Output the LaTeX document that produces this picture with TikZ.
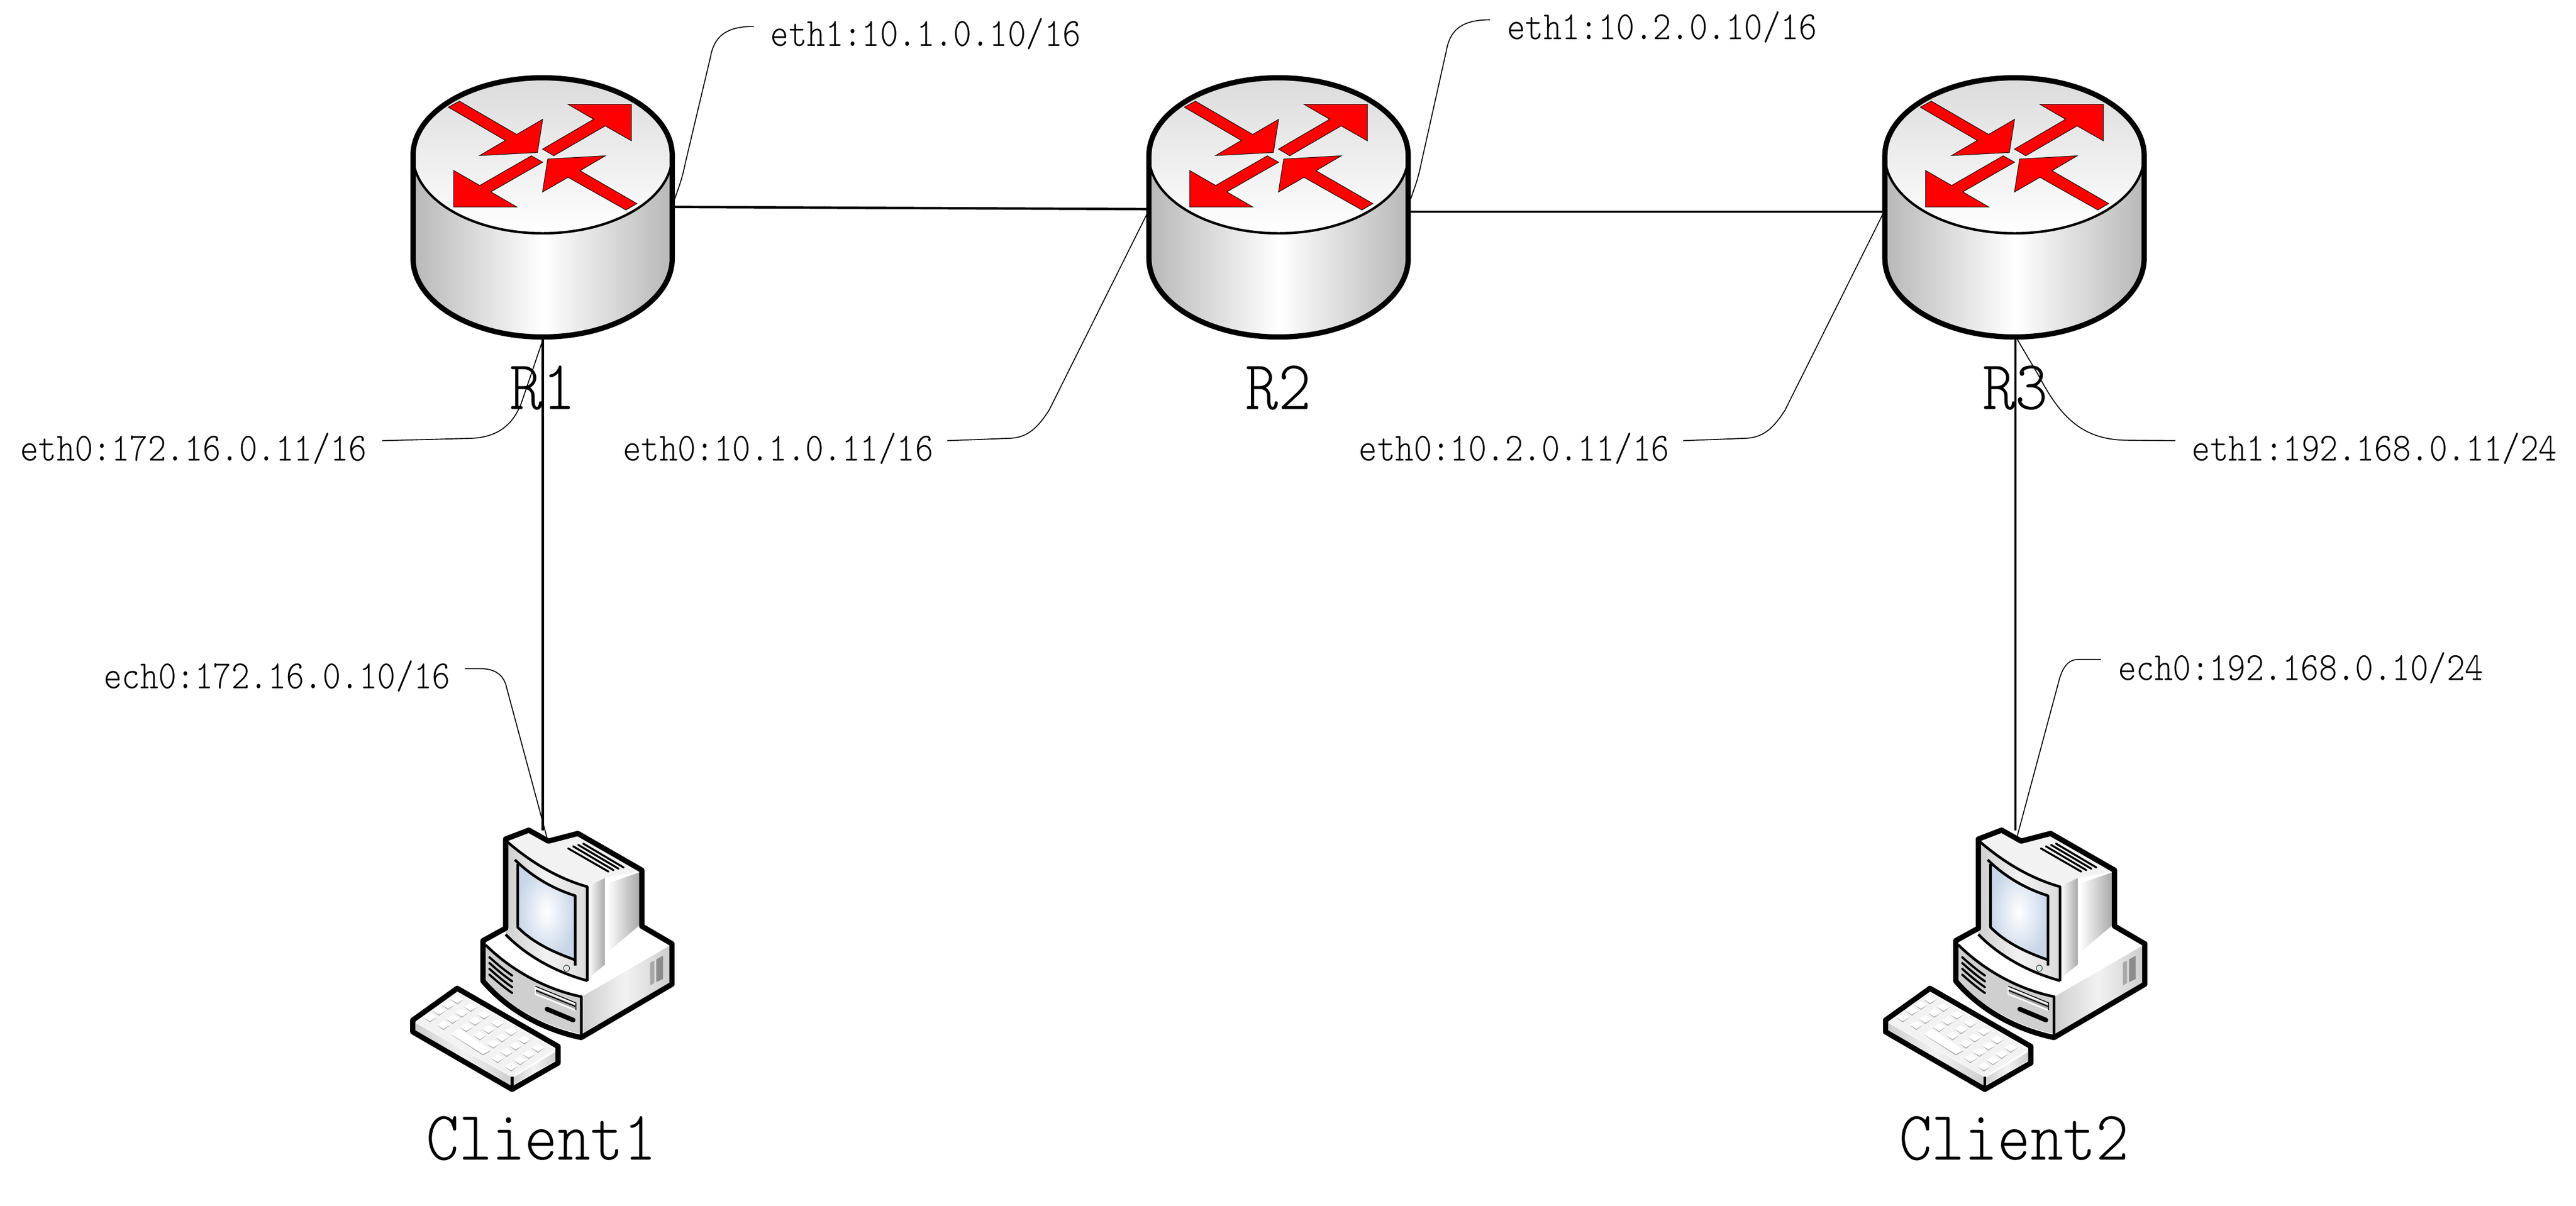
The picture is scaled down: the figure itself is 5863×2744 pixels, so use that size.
\documentclass[tikz,border=0pt]{standalone}
\usepackage{fontspec}
\usepackage{graphicx}
\definecolor{gA}{gray}{0.86}
\definecolor{gB}{gray}{0.72}
\definecolor{gC}{gray}{0.95}
\definecolor{gD}{gray}{0.66}
\definecolor{gE}{gray}{0.81}
\definecolor{keyshadow}{gray}{0.68}
\definecolor{screenblue}{RGB}{200,214,232}
\definecolor{ledgreen}{RGB}{220,235,225}
\newcommand{\smalltxt}[1]{\scalebox{1}[1.15]{\ttfamily\fontsize{22.5}{24}\fontseries{l}\selectfont #1}}
\newcommand{\bigtxt}[1]{\scalebox{1}[1.12]{\ttfamily\fontsize{40.5}{42}\fontseries{l}\selectfont #1}}
\tikzset{
  iplabel/.style={anchor=base west,inner sep=0pt,outer sep=0pt},
  namelabel/.style={anchor=base,inner sep=0pt,outer sep=0pt},
  iconbox/.style={inner sep=0pt,minimum width=6cm,minimum height=6cm},
  link/.style={line width=0.55mm,black},
  leader/.style={line width=0.22mm,black},
  heavy/.style={line width=1.2mm,black,line join=round},
  mid/.style={line width=0.6mm,black,line join=round},
  sidegrad/.style={left color=#1,right color=#1,middle color=white},
  softgrad/.style={left color=gE,right color=gE,middle color=gC},
}
\newcommand{\routericon}[1]{%
  \begin{scope}[shift={(#1,0)}]
    \path[sidegrad=gB]
      (-295,354) -- (-295,588) arc (180:0:295 and 179) -- (295,354) arc (0:180:295 and 177) -- cycle;
    \shade[top color=gA,bottom color=white] (0,354) ellipse (295 and 177);
    \draw[line width=0.55mm] (-295,354) arc (180:0:295 and 177);
    \draw[heavy] (-295,354) -- (-295,588) arc (180:0:295 and 179) -- (295,354) arc (0:-180:295 and 177) -- cycle;
  \end{scope}
  \begin{scope}[shift={({#1-355},120)},xscale=.4975,yscale=.459]
    \filldraw[fill=red,draw=black,line width=0.12mm]
      (282,270) -- (333,240) -- (595,405) -- (714,330) -- (690,495) -- (425,510) -- (543,435) -- cycle
      (713,478) -- (947,330) -- (830,256) -- (1120,256) -- (1120,437) -- (1000,363) -- (765,511) -- cycle
      (714,543) -- (477,690) -- (596,765) -- (307,765) -- (307,584) -- (426,658) -- (662,511) -- cycle
      (1145,748) -- (1095,780) -- (830,618) -- (713,691) -- (737,527) -- (1001,511) -- (885,585) -- cycle;
  \end{scope}}
\newcommand{\pcicon}[1]{%
  \begin{scope}[shift={({880+#1},1780)},xscale=.459,yscale=.472]
    % silhouette
    \fill[white] (590,275) -- (705,232) -- (802,285) -- (948,248) -- (1265,425) -- (1265,695) -- (1415,780) -- (1415,975) -- (965,1232) .. controls (780,1195) and (600,1100) .. (478,960) -- (478,765) -- (590,705) -- cycle;
    % top of monitor
    \fill[gC] (605,285) -- (705,245) -- (802,300) -- (948,262) -- (1253,432) -- (1083,462) -- (995,500) .. controls (850,465) and (720,390) .. cycle;
    % base right side
    \path[softgrad] (968,1035) -- (1402,790) -- (1402,970) -- (968,1215) -- cycle;
    % base front
    \fill[gE] (490,785) .. controls (620,910) and (790,1000) .. (965,1035) -- (965,1215) .. controls (790,1180) and (620,1090) .. (490,965) -- cycle;
    % monitor narrow side and back
    \path[left color=white,right color=gD] (1000,500) -- (1083,463) -- (1083,880) -- (1000,945) -- cycle;
    \path[left color=white,right color=gD] (1093,490) -- (1255,435) -- (1255,690) -- (1093,822) -- cycle;
    % monitor front
    \path[left color=gE,right color=gA,middle color=gC] (600,290) .. controls (720,390) and (850,465) .. (995,505) -- (995,955) .. controls (850,915) and (700,840) .. (590,730) -- cycle;
    % screen
    \path[inner color=white,outer color=screenblue] (650,395) .. controls (740,470) and (840,520) .. (935,548) -- (935,858) .. controls (840,825) and (730,780) .. (650,700) -- cycle;
    \draw[mid] (636,375) .. controls (730,465) and (840,520) .. (935,548) -- (935,885);
    \draw[mid] (650,395) -- (650,700) .. controls (730,780) and (840,825) .. (935,858);
    % monitor front outline
    \draw[mid] (600,290) .. controls (720,390) and (850,465) .. (995,505) -- (995,960);
    \draw[mid] (590,735) .. controls (700,845) and (850,920) .. (995,958);
    % led
    \filldraw[fill=ledgreen,draw=black,line width=0.1mm] (892,898) circle (15);
    % top vents
    \foreach \a/\b/\c/\d in {900/320/1100/432,925/310/1125/425,950/303/1150/418,975/297/1175/412}
      \draw[line width=0.45mm,line cap=round] (\a,\b) -- (\c,\d);
    % side slots
    \fill[gD] (1307,870) -- (1327,862) -- (1327,970) -- (1307,980) -- cycle;
    \fill[gray!90] (1337,855) -- (1370,838) -- (1370,950) -- (1337,965) -- cycle;
    % base front lines
    \draw[mid] (490,785) .. controls (620,910) and (790,1000) .. (965,1035) -- (965,1220);
    \foreach \y in {0,28,56,84}
      \draw[line width=0.5mm,line cap=round] (510,845+\y) .. controls (550,880+\y) and (585,908+\y) .. (622,933+\y);
    % drive
    \filldraw[fill=white,draw=none] (735,985) -- (938,1065) -- (938,1105) -- (735,1025) -- cycle;
    \fill[gray!70] (740,998) -- (935,1075) -- (935,1095) -- (740,1018) -- cycle;
    \draw[line width=0.2mm] (738,985) -- (938,1065) -- (938,1100);
    \draw[line width=0.25mm] (740,1005) -- (935,1082);
    \draw[line width=1.05mm,line cap=round] (795,1095) -- (925,1148);
    % outline
    \draw[heavy] (590,275) -- (705,232) -- (802,285) -- (948,248) -- (1265,425) -- (1265,695) -- (1415,780) -- (1415,975) -- (965,1232) .. controls (780,1195) and (600,1100) .. (478,960) -- (478,765) -- (590,705) -- cycle;
    % keyboard
    \fill[white] (350,995) -- (850,1275) -- (850,1355) -- (622,1482) -- (130,1205) -- (130,1148) -- cycle;
    \fill[gC] (350,1015) -- (835,1290) -- (620,1420) -- (145,1160) -- cycle;
    \path[softgrad] (145,1163) -- (618,1422) -- (618,1470) -- (145,1205) -- cycle;
    \path[softgrad] (628,1425) -- (835,1302) -- (835,1345) -- (628,1460) -- cycle;
    \foreach \x/\y in {350/1048,305/1075,260/1103,215/1135,417/1085,372/1113,327/1143,282/1172,483/1122,438/1152,395/1182,550/1162,505/1192,462/1222,617/1202,572/1232,528/1262,683/1242,640/1272,595/1302,550/1332,750/1282,705/1312,662/1342,617/1372}{
      \fill[keyshadow] (\x-33,\y) -- (\x,\y+24) -- (\x+33,\y) -- cycle;
      \fill[white] (\x-33,\y-1) -- (\x,\y-19) -- (\x+33,\y-1) -- (\x,\y+18) -- cycle;
    }
    \fill[keyshadow] (318,1217) -- (478,1318) -- (517,1297) -- cycle;
    \fill[white] (318,1215) -- (360,1190) -- (517,1293) -- (478,1312) -- cycle;
    \draw[line width=0.6mm] (622,1422) -- (622,1470);
    \draw[heavy] (350,995) -- (850,1275) -- (850,1355) -- (622,1482) -- (130,1205) -- (130,1148) -- cycle;
  \end{scope}}
\begin{document}
\begin{tikzpicture}[x=0.01cm,y=0.01cm,yscale=-1]
  \useasboundingbox (0,0) rectangle (5863,2744);
  \fill[white] (0,0) rectangle (5863,2744);
  % named anchors
  \node[iconbox] (r1) at (1235,472) {};
  \node[iconbox] (r2) at (2910,472) {};
  \node[iconbox] (r3) at (4585,472) {};
  \coordinate (r1e) at (1536,471);
  \coordinate (r2w) at (2612,476);
  \coordinate (r2e) at (3210,482);
  \coordinate (r3w) at (4287,482);
  \coordinate (r1s) at (1235,770);
  \coordinate (r3s) at (4587,770);
  \coordinate (c1t) at (1235,1890);
  \coordinate (c2t) at (4587,1890);
  % links
  \draw[link] (r1e) -- (r2w);
  \draw[link] (r2e) -- (r3w);
  \draw[link] (r1s) -- (c1t);
  \draw[link] (r3s) -- (c2t);
  % icons
  \routericon{1235}
  \routericon{2910}
  \routericon{4585}
  \pcicon{0}
  \pcicon{3352}
  \node[inner sep=0pt,minimum width=6cm,minimum height=5.8cm] (c1) at (1235,2200) {};
  \node[inner sep=0pt,minimum width=6cm,minimum height=5.8cm] (c2) at (4587,2200) {};
  % names
  \node[namelabel] (n1) at (1235,932) {\bigtxt{R1}};
  \node[namelabel] (n2) at (2910,932) {\bigtxt{R2}};
  \node[namelabel] (n3) at (4587,932) {\bigtxt{R3}};
  \node[namelabel] (n4) at (1232,2640) {\bigtxt{Client1}};
  \node[namelabel] (n5) at (4584,2640) {\bigtxt{Client2}};
  % address labels
  \node[iplabel] (a1) at (1754,105) {\smalltxt{eth1:10.1.0.10/16}};
  \node[iplabel] (a2) at (3430,90) {\smalltxt{eth1:10.2.0.10/16}};
  \node[iplabel] (a3) at (46,1049) {\smalltxt{eth0:172.16.0.11/16}};
  \node[iplabel] (a4) at (1418,1049) {\smalltxt{eth0:10.1.0.11/16}};
  \node[iplabel] (a5) at (3093,1049) {\smalltxt{eth0:10.2.0.11/16}};
  \node[iplabel] (a6) at (4989,1049) {\smalltxt{eth1:192.168.0.11/24}};
  \node[iplabel] (a7) at (236,1567) {\smalltxt{ech0:172.16.0.10/16}};
  \node[iplabel] (a8) at (4821,1548) {\smalltxt{ech0:192.168.0.10/24}};
  % leaders
  \draw[leader] (1536,452) .. controls (1545,425) and (1552,410) .. (1560,370) -- (1617,130) .. controls (1625,85) and (1650,60) .. (1716,60);
  \draw[leader] (3211,452) .. controls (3220,425) and (3227,410) .. (3235,370) -- (3292,115) .. controls (3300,70) and (3325,45) .. (3391,45);
  \draw[leader] (1235,775) -- (1186,919) .. controls (1160,985) and (1110,998) .. (1061,998) -- (870,1003);
  \draw[leader] (2612,484) -- (2388,933) .. controls (2355,985) and (2330,998) .. (2288,998) -- (2156,1003);
  \draw[leader] (4287,484) -- (4063,933) .. controls (4030,985) and (4005,998) .. (3963,998) -- (3831,1003);
  \draw[leader] (4591,772) -- (4640,855) .. controls (4690,950) and (4740,1001) .. (4840,1002) -- (4951,1003);
  \draw[leader] (1058,1522) -- (1095,1522) .. controls (1130,1522) and (1148,1540) .. (1153,1565) -- (1245,1907);
  \draw[leader] (4591,1904) -- (4686,1550) .. controls (4695,1515) and (4710,1501) .. (4730,1501) -- (4782,1501);
\end{tikzpicture}
\end{document}
